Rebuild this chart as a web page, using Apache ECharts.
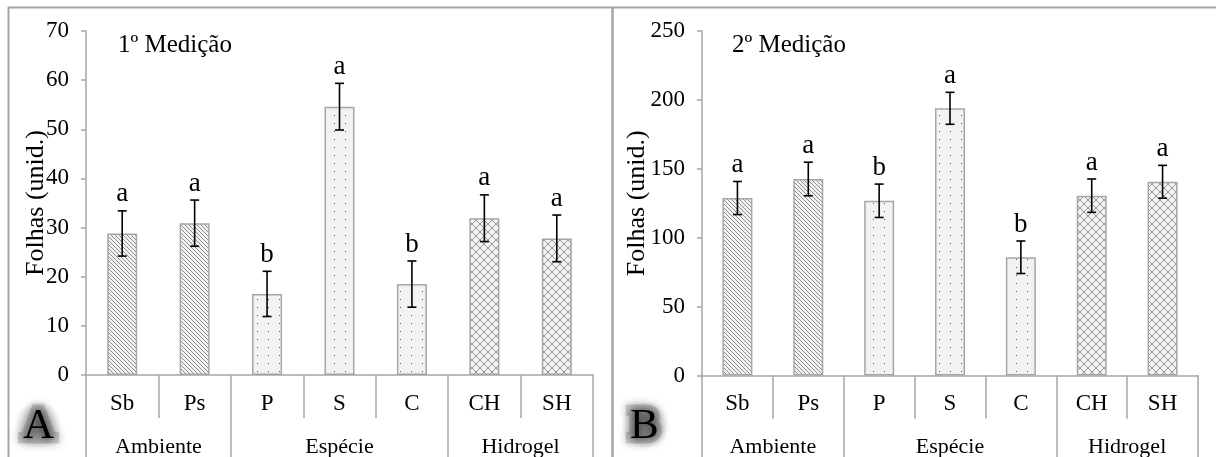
<!DOCTYPE html>
<html>
<head>
<meta charset="utf-8">
<script src="https://cdn.jsdelivr.net/npm/echarts@6/dist/echarts.min.js"></script>
<style>
html,body{margin:0;padding:0;background:#fff;}
#c{width:1216px;height:457px;}
</style>
</head>
<body>
<div id="c"></div>
<script>
// ---------- DATA ----------
const categories = ['Sb', 'Ps', 'P', 'S', 'C', 'CH', 'SH'];
const groupNames = ['Ambiente', 'Espécie', 'Hidrogel'];
const groupSpans = [2, 3, 2];
const m1Values = [28.8, 30.9, 16.5, 54.6, 18.5, 31.9, 27.8];
const m1Errors = [4.6, 4.7, 4.6, 4.75, 4.7, 4.75, 4.75];
const m1Letters = ['a', 'a', 'b', 'a', 'b', 'a', 'a'];
const m2Values = [128.8, 142.6, 126.8, 193.9, 85.8, 130.5, 140.6];
const m2Errors = [12.0, 12.2, 12.1, 11.6, 11.8, 12.1, 11.9];
const m2Letters = ['a', 'a', 'b', 'a', 'b', 'a', 'a'];
const m1Ticks = [0, 10, 20, 30, 40, 50, 60, 70];
const m2Ticks = [0, 50, 100, 150, 200, 250];
const titles = ['1º Medição', '2º Medição'];
const panelLetters = ['A', 'B'];
const yName = 'Folhas (unid.)';

// ---------- patterns ----------
const BG = '#f2f2f2';
function mk(w, h, draw) {
  const c = document.createElement('canvas');
  c.width = w; c.height = h;
  const g = c.getContext('2d');
  g.fillStyle = BG; g.fillRect(0, 0, w, h);
  draw(g);
  return { image: c, repeat: 'repeat' };
}
const patDiag = mk(4, 4, g => {
  g.strokeStyle = '#8e8e8e'; g.lineWidth = 1;
  g.beginPath();
  g.moveTo(-1, -1); g.lineTo(5, 5);
  g.moveTo(-1, 3); g.lineTo(1, 5);
  g.moveTo(3, -1); g.lineTo(5, 1);
  g.stroke();
});
const patDots = mk(11, 8, g => {
  g.fillStyle = '#5a5a5a'; g.fillRect(4, 3, 1, 1);
});
const patCross = mk(8, 8, g => {
  g.strokeStyle = '#969696'; g.lineWidth = 1;
  g.beginPath();
  g.moveTo(0, 0); g.lineTo(8, 8);
  g.moveTo(8, 0); g.lineTo(0, 8);
  g.stroke();
});
const groupPatterns = [patDiag, patDots, patCross];
const catGroup = [];
groupSpans.forEach((s, gi) => { for (let i = 0; i < s; i++) catGroup.push(gi); });
const groupCenters = [];
const groupBounds = [0];
{
  let acc = 0;
  groupSpans.forEach(s => { groupCenters.push(acc + s / 2); acc += s; groupBounds.push(acc); });
}

const FONT = '"Liberation Serif", "Times New Roman", serif';
const GREY = '#a6a6a6';

function barData(vals) {
  return vals.map((v, i) => ({
    value: v,
    itemStyle: { color: groupPatterns[catGroup[i]] }
  }));
}
function errData(vals, errs) {
  return vals.map((v, i) => [i, v - errs[i], v + errs[i]]);
}
function errRender(letters) {
  return function (params, api) {
    const x = api.value(0), lo = api.value(1), hi = api.value(2);
    const t = api.coord([x, hi]);
    const b = api.coord([x, lo]);
    const cap = 4.5;
    const ls = { stroke: '#000', lineWidth: 1.6 };
    return {
      type: 'group',
      children: [
        { type: 'line', shape: { x1: t[0], y1: t[1], x2: b[0], y2: b[1] }, style: ls },
        { type: 'line', shape: { x1: t[0] - cap, y1: t[1], x2: t[0] + cap, y2: t[1] }, style: ls },
        { type: 'line', shape: { x1: b[0] - cap, y1: b[1], x2: b[0] + cap, y2: b[1] }, style: ls },
        { type: 'text', style: { text: letters[params.dataIndex], x: t[0], y: t[1] - 3, align: 'center', verticalAlign: 'bottom', font: '27px ' + FONT, fill: '#000' } }
      ]
    };
  };
}

const grids = [
  { left: 86, top: 31, width: 507, height: 344, outerBoundsMode: 'none', containLabel: false },
  { left: 702, top: 31, width: 496, height: 344.5, outerBoundsMode: 'none', containLabel: false }
];

function catAxis(gi) {
  return {
    type: 'category', gridIndex: gi, data: categories, boundaryGap: true,
    axisLine: { lineStyle: { color: GREY, width: 1.5 } },
    axisTick: { show: true, interval: 0, length: 43, lineStyle: { color: GREY, width: 1.5 } },
    axisLabel: { interval: 0, margin: 17, color: '#000', fontFamily: FONT, fontSize: 23 }
  };
}
function groupAxis(gi) {
  return {
    type: 'value', gridIndex: gi, min: 0, max: categories.length, position: 'bottom',
    axisLine: { show: false },
    splitLine: { show: false },
    axisTick: { show: true, customValues: groupBounds, length: 82, lineStyle: { color: GREY, width: 1.5 } },
    axisLabel: {
      customValues: groupCenters, margin: 61, color: '#000', fontFamily: FONT, fontSize: 22,
      formatter: v => groupNames[groupCenters.indexOf(v)] || ''
    }
  };
}
function valAxis(gi, ticks, gap) {
  return {
    type: 'value', gridIndex: gi, min: ticks[0], max: ticks[ticks.length - 1], interval: ticks[1] - ticks[0],
    name: yName, nameLocation: 'middle', nameGap: gap, nameRotate: 90, nameMoveOverlap: false,
    nameTextStyle: { fontFamily: FONT, fontSize: 26, color: '#000' },
    axisLine: { show: true, lineStyle: { color: GREY, width: 1.5 } },
    axisTick: { show: true, length: 5, lineStyle: { color: GREY, width: 1.5 } },
    splitLine: { show: false },
    axisLabel: { margin: 17, color: '#000', fontFamily: FONT, fontSize: 23 }
  };
}

const barStyle = { borderColor: GREY, borderWidth: 1.5 };
const letterTitle = (t, x) => ({
  text: t, left: x, top: 405, padding: 0,
  textStyle: { fontFamily: FONT, fontSize: 43, fontWeight: 'normal', color: '#000',
    textBorderColor: 'rgba(110,110,110,0.28)', textBorderWidth: 11,
    textShadowBlur: 10, textShadowColor: 'rgba(0,0,0,0.9)' }
});
const mainTitle = (t, x) => ({
  text: t, left: x, top: 33, padding: 0,
  textStyle: { fontFamily: FONT, fontSize: 25, fontWeight: 'normal', color: '#000' }
});
const halo = (cx) => ({
  type: 'rect', silent: true, z: 1,
  shape: { x: cx - 24, y: 398, width: 48, height: 54, r: 14 },
  style: { fill: new echarts.graphic.RadialGradient(0.5, 0.5, 0.5, [
    { offset: 0, color: 'rgba(0,0,0,0.22)' }, { offset: 0.65, color: 'rgba(0,0,0,0.12)' }, { offset: 1, color: 'rgba(0,0,0,0)' }]) }
});

const option = {
  animation: false,
  backgroundColor: '#fff',
  title: [mainTitle(titles[0], 118), mainTitle(titles[1], 732), letterTitle(panelLetters[0], 23), letterTitle(panelLetters[1], 630)],
  grid: grids,
  xAxis: [catAxis(0), groupAxis(0), catAxis(1), groupAxis(1)],
  yAxis: [valAxis(0, m1Ticks, 37), valAxis(1, m2Ticks, 52)],
  series: [
    { type: 'bar', xAxisIndex: 0, yAxisIndex: 0, barWidth: 30, data: barData(m1Values), itemStyle: barStyle },
    { type: 'custom', xAxisIndex: 0, yAxisIndex: 0, data: errData(m1Values, m1Errors), renderItem: errRender(m1Letters), z: 5 },
    { type: 'bar', xAxisIndex: 2, yAxisIndex: 1, barWidth: 30, data: barData(m2Values), itemStyle: barStyle },
    { type: 'custom', xAxisIndex: 2, yAxisIndex: 1, data: errData(m2Values, m2Errors), renderItem: errRender(m2Letters), z: 5 }
  ],
  graphic: [
    halo(38), halo(645),
    { type: 'line', shape: { x1: 8, y1: 7.5, x2: 1216, y2: 7.5 }, style: { stroke: GREY, lineWidth: 2 }, silent: true },
    { type: 'line', shape: { x1: 8.5, y1: 7, x2: 8.5, y2: 457 }, style: { stroke: GREY, lineWidth: 2 }, silent: true },
    { type: 'line', shape: { x1: 612.5, y1: 7, x2: 612.5, y2: 457 }, style: { stroke: GREY, lineWidth: 2.5 }, silent: true }
  ]
};

const chart = echarts.init(document.getElementById('c'), null, { renderer: 'canvas' });
chart.setOption(option);
</script>
</body>
</html>
